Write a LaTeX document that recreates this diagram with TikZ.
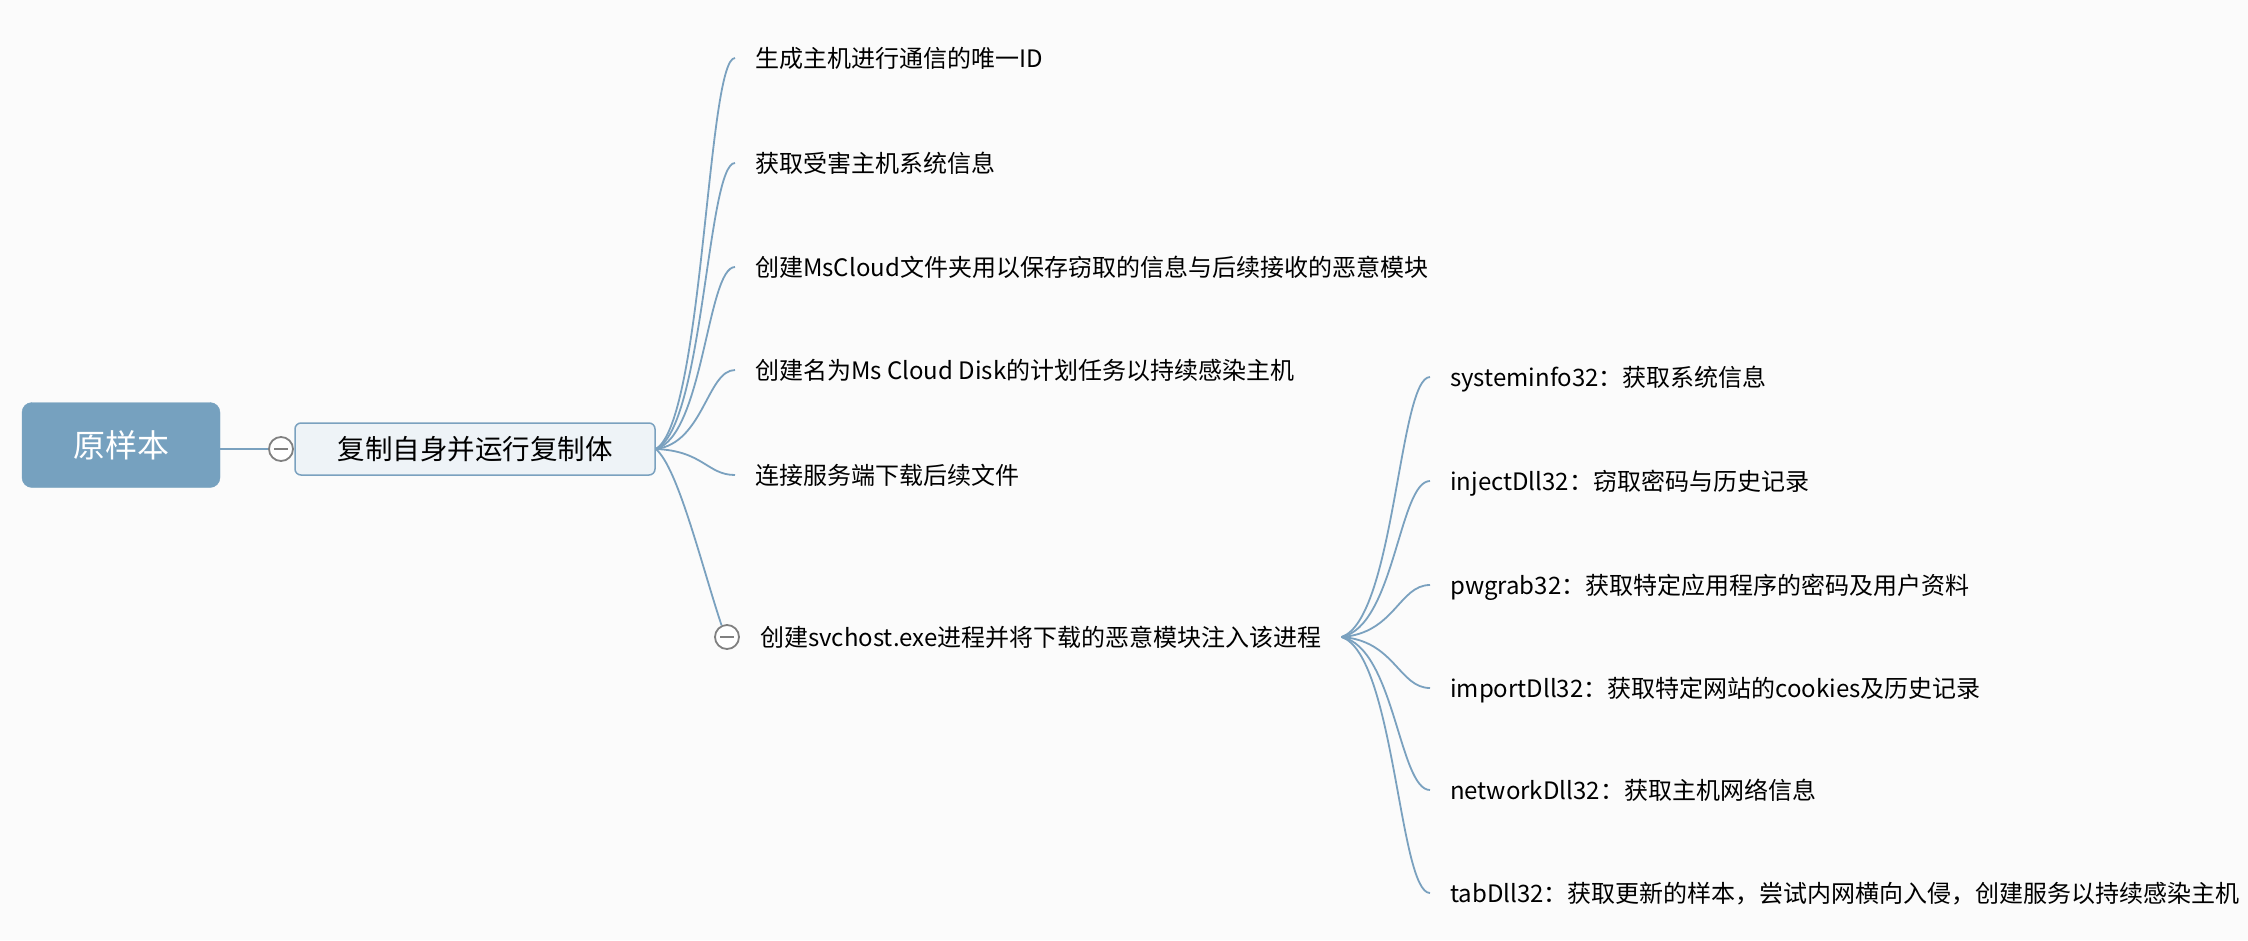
\documentclass[tikz,border=0pt]{standalone}
\usepackage{fontspec}
\setmainfont{Noto Sans CJK SC}
\usepackage{tikz}
\usetikzlibrary{calc}

\definecolor{mmline}{RGB}{122,161,191}
\definecolor{mmroot}{RGB}{118,161,191}
\definecolor{mmsubfill}{RGB}{238,243,247}
\definecolor{mmdot}{RGB}{128,128,128}
\definecolor{mmbg}{RGB}{251,251,251}

\tikzset{
  mm_root/.style={draw=mmroot,fill=mmroot,rounded corners=10pt,minimum width=198pt,minimum height=85pt,text=white,font=\fontsize{32}{38}\selectfont,inner sep=0pt},
  mm_sub/.style={draw=mmline,line width=1.5pt,fill=mmsubfill,rounded corners=6pt,minimum width=360pt,minimum height=52pt,font=\fontsize{27.5}{33}\selectfont,inner sep=0pt},
  mm_leaf/.style={anchor=west,inner xsep=20pt,inner ysep=0pt,text height=20pt,text depth=2pt,font=\fontsize{24}{28}\selectfont},
  mm_dot/.style={circle,draw=mmdot,line width=1.8pt,fill=white,minimum size=24pt,inner sep=0pt,
    path picture={\draw[mmdot,line width=2.5pt] ([xshift=-7pt]path picture bounding box.center)--([xshift=7pt]path picture bounding box.center);}},
  mm_line/.style={draw=mmline,line width=1.8pt},
  mm_curve/.style={to path={let \p1=(\tikztostart),\p2=(\tikztotarget) in .. controls ({\x1+0.6*(\x2-\x1)},{\y1+0.07*(\y2-\y1)}) and ({\x2-0.35*(\x2-\x1)},\y2) .. (\tikztotarget)}}
}

\begin{document}
\begin{tikzpicture}[x=1pt,y=-1pt]
\useasboundingbox (0,0) rectangle (2248,940);
\fill[mmbg] (0,0) rectangle (2248,940);

\node[mm_root] (mm_root) at (121,445) {原样本};
\node[mm_dot] (mm_dot) at (281,449) {};
\node[mm_sub] (mm_sub) at (475,449) {复制自身并运行复制体};
\draw[mm_line] (mm_root.east |- mm_dot.west)--(mm_dot.west);

\node[mm_leaf] (mm_id) at (735,58) {生成主机进行通信的唯一ID};
\node[mm_leaf] (mm_info) at (735,163) {获取受害主机系统信息};
\node[mm_leaf] (mm_dir) at (735,267) {创建MsCloud文件夹用以保存窃取的信息与后续接收的恶意模块};
\node[mm_leaf] (mm_task) at (735,370) {创建名为Ms Cloud Disk的计划任务以持续感染主机};
\node[mm_leaf] (mm_conn) at (735,475) {连接服务端下载后续文件};
\node[mm_dot] (mm_svc_dot) at (727,637) {};
\node[mm_leaf] (mm_svc) at (740,637) {创建svchost.exe进程并将下载的恶意模块注入该进程};

\draw[mm_line] (mm_sub.east) to[mm_curve] (mm_id.west);
\draw[mm_line] (mm_sub.east) to[mm_curve] (mm_info.west);
\draw[mm_line] (mm_sub.east) to[mm_curve] (mm_dir.west);
\draw[mm_line] (mm_sub.east) to[mm_curve] (mm_task.west);
\draw[mm_line] (mm_sub.east) to[mm_curve] (mm_conn.west);
\draw[mm_line] (mm_sub.east) .. controls +(22,18) and +(-20,-60) .. (mm_svc_dot.115);

\node[mm_leaf] (mm_sys) at (1430,377) {systeminfo32：获取系统信息};
\node[mm_leaf] (mm_inj) at (1430,481) {injectDll32：窃取密码与历史记录};
\node[mm_leaf] (mm_pw) at (1430,585) {pwgrab32：获取特定应用程序的密码及用户资料};
\node[mm_leaf] (mm_imp) at (1430,688) {importDll32：获取特定网站的cookies及历史记录};
\node[mm_leaf] (mm_net) at (1430,790) {networkDll32：获取主机网络信息};
\node[mm_leaf] (mm_tab) at (1430,893) {tabDll32：获取更新的样本，尝试内网横向入侵，创建服务以持续感染主机};

\draw[mm_line] (mm_svc.east) to[mm_curve] (mm_sys.west);
\draw[mm_line] (mm_svc.east) to[mm_curve] (mm_inj.west);
\draw[mm_line] (mm_svc.east) to[mm_curve] (mm_pw.west);
\draw[mm_line] (mm_svc.east) to[mm_curve] (mm_imp.west);
\draw[mm_line] (mm_svc.east) to[mm_curve] (mm_net.west);
\draw[mm_line] (mm_svc.east) to[mm_curve] (mm_tab.west);
\end{tikzpicture}
\end{document}
